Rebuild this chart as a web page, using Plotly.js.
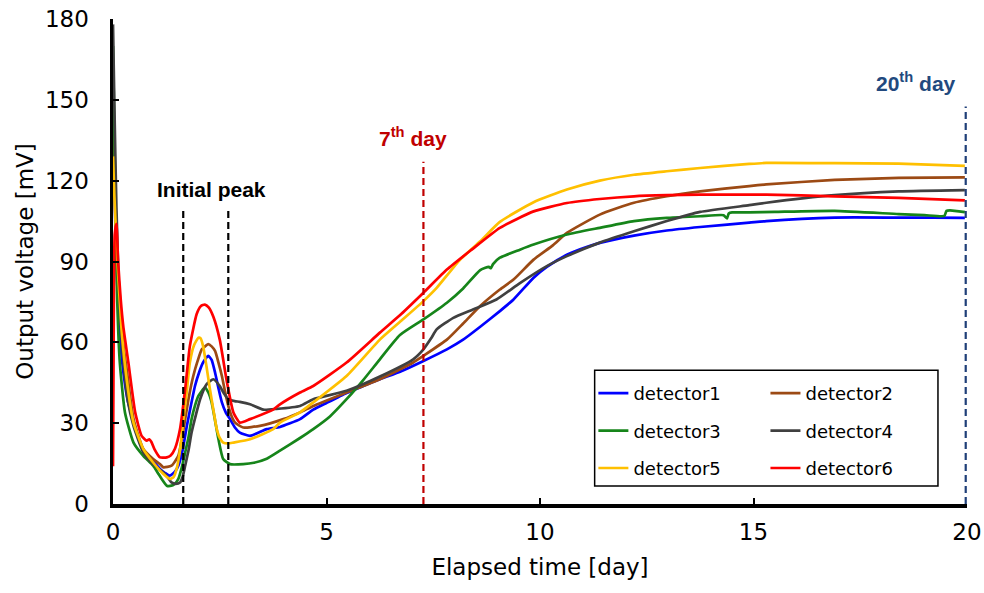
<!DOCTYPE html>
<html>
<head>
<meta charset="utf-8">
<script src="https://cdn.plot.ly/plotly-3.0.1.min.js"></script>
<style>html,body{margin:0;padding:0;background:#fff;}#chart{width:984px;height:593px;}</style>
</head>
<body>
<div id="chart"></div>
<script>
// ---- data ----
const seriesNames = ["detector1", "detector2", "detector3", "detector4", "detector5", "detector6"];
const seriesColors = ["#0000FF", "#9C4A14", "#16851A", "#404040", "#FFC000", "#FF0000"];

const t1 = [0, 0.03, 0.08, 0.15, 0.25, 0.35, 0.48, 0.6, 0.75, 0.94, 1.1, 1.22, 1.33, 1.45, 1.53, 1.63, 1.73, 1.83, 1.92, 2.02, 2.11, 2.23, 2.31, 2.39, 2.47, 2.55, 2.64, 2.74, 2.85, 2.97, 3.21, 3.6, 3.91, 4.38, 4.69, 5.0, 5.47, 5.86, 6.25, 6.75, 7.27, 7.82, 8.2, 8.6, 9.06, 9.38, 9.85, 10.16, 10.63, 10.94, 11.4, 12.2, 12.97, 13.75, 14.9, 15.3, 16.9, 18.4, 19.2, 19.95];
const v1 = [150, 120, 90, 65, 48, 38, 30.8, 24, 19, 16, 13, 11.5, 10.5, 12, 14.2, 20, 29, 37, 43.8, 49, 52.5, 55, 53.5, 48.8, 43, 37.7, 34, 31.5, 28.5, 26.5, 25.3, 27.8, 28.6, 31.5, 35, 37.5, 41.2, 43.8, 46.3, 49.3, 53.1, 57.4, 61, 65.8, 71.6, 75.9, 84, 88, 92.5, 94.5, 96.9, 99.6, 101.5, 102.8, 104.4, 105, 106.3, 106.3, 106.3, 106.2];

const t2 = [0, 0.03, 0.08, 0.16, 0.25, 0.32, 0.4, 0.48, 0.6, 0.71, 0.94, 1.1, 1.18, 1.37, 1.53, 1.61, 1.69, 1.78, 1.88, 1.98, 2.08, 2.23, 2.31, 2.39, 2.47, 2.55, 2.62, 2.7, 2.78, 2.86, 3.05, 3.44, 3.99, 4.38, 4.69, 5.47, 6.25, 7.03, 7.27, 7.82, 8.2, 8.6, 9.06, 9.38, 9.85, 10.3, 10.63, 11.4, 12.2, 12.97, 13.75, 14.9, 15.3, 16.9, 18.4, 19.95];
const v2 = [155, 125, 95, 77, 58, 50, 40, 31.5, 25, 20.4, 16.7, 14.8, 13.6, 14.2, 17.9, 24, 31.5, 40, 47.5, 53, 57.4, 59.3, 58.5, 56.8, 52.5, 47.5, 42, 36.4, 32.5, 30.2, 28.4, 29, 31.5, 34, 36.4, 41.4, 46.3, 52.5, 55, 61, 67, 73.5, 79.6, 83.3, 90.7, 96, 100.6, 107.4, 111.8, 114.2, 116, 118, 118.6, 120.3, 121, 121.2];

const t3 = [0, 0.03, 0.06, 0.1, 0.16, 0.28, 0.48, 0.71, 0.94, 1.05, 1.14, 1.26, 1.37, 1.45, 1.53, 1.61, 1.69, 1.77, 1.84, 1.92, 2.0, 2.15, 2.23, 2.31, 2.39, 2.47, 2.58, 2.74, 3.05, 3.3, 3.6, 3.91, 4.38, 4.69, 5.08, 5.47, 5.86, 6.25, 6.72, 7.27, 7.82, 8.2, 8.6, 8.8, 8.85, 8.9, 9.06, 9.53, 9.85, 10.63, 11.4, 12.2, 12.97, 13.75, 14.3, 14.38, 14.42, 14.5, 14.9, 15.5, 16.9, 18.4, 19.0, 19.47, 19.52, 19.6, 19.95];
const v3 = [170, 140, 105, 75, 52.5, 34, 22.8, 17.9, 14.2, 11.5, 9.3, 6.8, 6.8, 7.5, 9.3, 13.5, 19.1, 25, 31.5, 36.5, 40.1, 43.2, 41.5, 37.7, 31, 24, 16.7, 14.8, 14.8, 15.3, 16.8, 19.8, 24.5, 27.8, 32.5, 38.9, 46, 53.7, 62.7, 68.5, 74.7, 80, 86.8, 88, 87.5, 89, 91.4, 94.4, 96.3, 100, 102.5, 105, 106.2, 106.8, 107.2, 106, 107.8, 108.2, 108.2, 108.4, 108.8, 107.6, 107.2, 106.9, 108.8, 109, 108.3];

const t4 = [0, 0.03, 0.08, 0.15, 0.25, 0.35, 0.48, 0.71, 0.94, 1.18, 1.3, 1.37, 1.47, 1.57, 1.63, 1.69, 1.77, 1.84, 1.94, 2.04, 2.19, 2.35, 2.5, 2.6, 2.7, 2.85, 2.97, 3.21, 3.52, 3.83, 4.38, 4.69, 5.47, 6.25, 7.03, 7.27, 7.45, 7.58, 7.97, 8.43, 8.98, 9.53, 10.16, 10.63, 11.4, 12.2, 12.97, 13.75, 14.9, 15.3, 16.9, 18.4, 19.95];
const v4 = [178, 150, 110, 75, 52, 38, 29, 19.1, 14.8, 11.7, 9.5, 8, 7.5, 8, 10, 14.2, 20, 26.5, 33, 38.9, 44.4, 46.3, 43.8, 41, 38.9, 38.2, 37.9, 37, 35, 35.3, 36.4, 38.9, 42, 47.3, 53.7, 57.4, 61.5, 64.8, 69.1, 72.2, 75.9, 82, 88.3, 92, 97, 101.2, 105, 108.4, 110.9, 111.8, 114.6, 116, 116.5];

const t5 = [0, 0.03, 0.09, 0.2, 0.32, 0.48, 0.71, 0.94, 1.18, 1.33, 1.42, 1.49, 1.57, 1.65, 1.73, 1.8, 1.9, 2.0, 2.05, 2.11, 2.19, 2.27, 2.35, 2.43, 2.5, 2.58, 2.7, 2.82, 3.21, 3.75, 3.91, 4.38, 4.69, 5.47, 6.25, 6.75, 7.27, 7.58, 8.13, 8.6, 9.06, 9.85, 10.63, 11.4, 12.2, 12.97, 13.75, 14.9, 15.3, 16.9, 18.4, 19.95];
const v5 = [129, 115, 94, 64.8, 46.3, 30.2, 20.4, 15.4, 11.1, 9.3, 10, 13, 20, 31.5, 42, 52.5, 59, 61.7, 61.5, 58.6, 51, 42.6, 35, 27.8, 24.5, 22.8, 22.5, 22.8, 24, 27.8, 30.2, 34, 37.7, 47.5, 61, 68, 75.3, 80.2, 90.7, 97.5, 104.7, 112, 116.7, 120, 122.2, 123.5, 124.7, 126.2, 126.6, 126.5, 126.3, 125.5];

const t6 = [0, 0.015, 0.04, 0.08, 0.12, 0.18, 0.24, 0.36, 0.52, 0.67, 0.79, 0.85, 0.9, 0.97, 1.1, 1.26, 1.35, 1.45, 1.57, 1.69, 1.8, 1.96, 2.06, 2.15, 2.24, 2.35, 2.5, 2.66, 2.82, 2.97, 3.21, 3.75, 3.91, 4.38, 4.69, 5.47, 6.25, 6.75, 7.27, 7.82, 8.4, 9.06, 9.85, 10.63, 11.4, 12.2, 12.97, 13.75, 14.9, 15.3, 16.9, 18.4, 19.95];
const v6 = [14, 60, 100, 104, 90, 76, 66, 52.5, 34, 25.3, 23.5, 24, 23, 20.4, 17.3, 17.3, 18, 20.5, 27.8, 42.6, 58.6, 70.5, 73.5, 74, 73, 69.5, 61, 46, 34, 30.2, 31.5, 35, 37, 41.4, 43.8, 52.5, 63.6, 70.5, 78.4, 87, 94.4, 102.5, 108.6, 111.7, 113.2, 114.2, 114.6, 114.8, 114.8, 114.8, 114.2, 113.6, 112.7];

const xTicks = [0, 5, 10, 15, 20];
const yTicks = [0, 30, 60, 90, 120, 150, 180];

// marker lines: day position and top value
const markerDays = [1.645, 2.70, 7.27, 19.97];
const markerTops = [109.5, 109.5, 127, 147.5];
const markerColors = ["#000000", "#000000", "#C00000", "#1F3F78"];

const labelTexts = ["Initial peak", "7<sup>th</sup> day", "20<sup>th</sup> day"];
const labelX = [2.295, 7.03, 18.8];
const labelY = [116.6, 136.2, 156.5];
const labelColors = ["#000000", "#C00000", "#22497E"];

// ---- build ----
const times = [t1, t2, t3, t4, t5, t6];
const vals = [v1, v2, v3, v4, v5, v6];
const FONT = "DejaVu Sans, Liberation Sans, sans-serif";
const AFONT = "Liberation Sans, Arial, sans-serif";

const traces = seriesNames.map((n, i) => ({
  x: times[i], y: vals[i], name: n, type: "scatter", mode: "lines",
  line: {color: seriesColors[i], width: 2.7, shape: "spline", smoothing: 0.5},
  legend: (i % 2 === 0) ? "legend" : "legend2",
  legendgroup: n
}));

const shapes = markerDays.map((d, i) => ({
  type: "line", xref: "x", yref: "y", x0: d, x1: d, y0: 0, y1: markerTops[i],
  line: {color: markerColors[i], width: 2.2, dash: "7px,4px"}
}));
shapes.push({type: "rect", xref: "paper", yref: "paper", x0: 0.564, x1: 0.966, y0: 0.037, y1: 0.276,
  line: {color: "#000", width: 1.5}, fillcolor: "rgba(0,0,0,0)", layer: "below"});

const annotations = labelTexts.map((s, i) => ({
  text: "<b>" + s + "</b>", x: labelX[i], y: labelY[i], xref: "x", yref: "y",
  showarrow: false, xanchor: "center", yanchor: "middle",
  font: {family: AFONT, size: 21, color: labelColors[i]}
}));

const legendCommon = {
  orientation: "v", yanchor: "top", xanchor: "left", bgcolor: "rgba(0,0,0,0)",
  borderwidth: 0, tracegroupgap: 11, itemwidth: 30, font: {family: FONT, size: 18, color: "#000"}
};

const layout = {
  width: 984, height: 593,
  margin: {l: 113, r: 17, t: 19, b: 89},
  paper_bgcolor: "#fff", plot_bgcolor: "#fff",
  font: {family: FONT, color: "#000"},
  showlegend: true,
  legend: Object.assign({x: 0.5625, y: 0.266}, legendCommon),
  legend2: Object.assign({x: 0.764, y: 0.266}, legendCommon),
  xaxis: {
    range: [0, 20], tickvals: xTicks, ticktext: xTicks.map(String),
    showgrid: false, zeroline: false, showline: true, linecolor: "#000", linewidth: 3.5,
    ticks: "inside", ticklen: 6, tickwidth: 2, tickcolor: "#000",
    ticklabelstandoff: 5,
    tickfont: {family: FONT, size: 23, color: "#000"},
    title: {text: "Elapsed time [day]", font: {family: FONT, size: 23, color: "#000"}, standoff: 16}
  },
  yaxis: {
    range: [0, 180], tickvals: yTicks, ticktext: yTicks.map(String),
    showgrid: false, zeroline: false, showline: true, linecolor: "#000", linewidth: 3.5,
    ticks: "inside", ticklen: 6, tickwidth: 2, tickcolor: "#000",
    ticklabelstandoff: 16,
    tickfont: {family: FONT, size: 23, color: "#000"},
    title: {text: "Output voltage [mV]", font: {family: FONT, size: 23, color: "#000"}, standoff: 6}
  },
  shapes: shapes,
  annotations: annotations
};

Plotly.newPlot("chart", traces, layout, {staticPlot: true});
</script>
</body>
</html>
